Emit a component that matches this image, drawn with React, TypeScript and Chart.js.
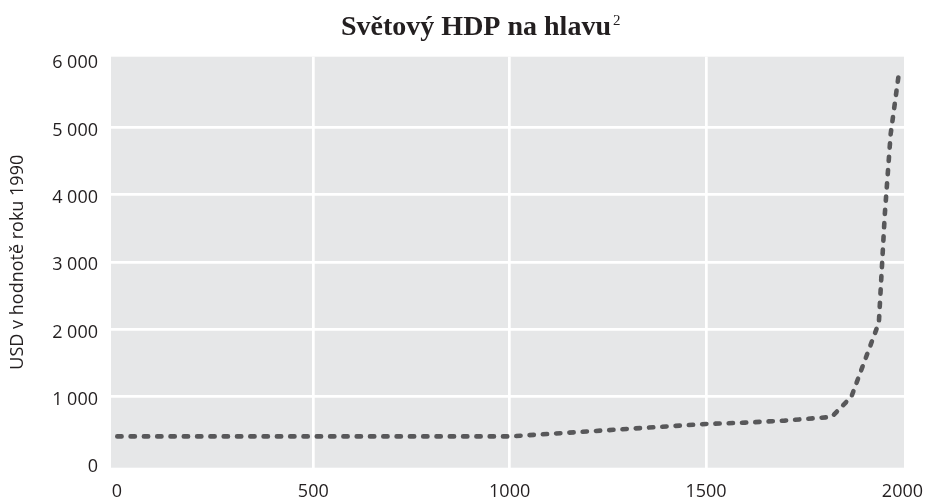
import { useEffect, useRef } from 'react';
import { Chart, registerables } from 'chart.js';

Chart.register(...registerables);

// Data
const years = [1, 1000, 1500, 1600, 1700, 1820, 1870, 1940, 1955, 1970, 1992];
const gdpPerCapita = [410, 410, 595, 615, 645, 700, 1000, 2100, 3700, 4900, 5850];
const xTicks = [0, 500, 1000, 1500, 2000];
const yTicks = [0, 1000, 2000, 3000, 4000, 5000, 6000];
const titleText = 'Světový HDP na hlavu';
const titleSup = '2';
const yTitle = 'USD v hodnotě roku 1990';

const TEXT = '#231f20';
const SANS = '"Open Sans", "Noto Sans", sans-serif';

function fmtThousands(v: number): string {
  if (v >= 1000) {
    const th = Math.floor(v / 1000);
    const rest = String(v % 1000).padStart(3, '0');
    return th + ' ' + rest;
  }
  return String(v);
}

const bgPlugin = {
  id: 'plotBg',
  beforeDraw(chart: any) {
    const { ctx, chartArea } = chart;
    ctx.save();
    ctx.fillStyle = '#e6e7e8';
    ctx.fillRect(chartArea.left, chartArea.top, chartArea.right - chartArea.left, chartArea.bottom - chartArea.top);
    ctx.restore();
  },
};

const titlePlugin = {
  id: 'customTitle',
  afterDraw(chart: any) {
    const { ctx } = chart;
    ctx.save();
    ctx.fillStyle = TEXT;
    ctx.textBaseline = 'alphabetic';
    ctx.font = 'bold 28px "Liberation Serif", serif';
    const w = ctx.measureText(titleText).width;
    const cx = 476;
    const x0 = cx - w / 2;
    ctx.textAlign = 'left';
    ctx.fillText(titleText, x0, 35);
    ctx.font = '15px "Liberation Serif", serif';
    ctx.fillText(titleSup, x0 + w + 2, 25);
    ctx.restore();
  },
};

export default function App() {
  const ref = useRef<HTMLCanvasElement | null>(null);

  useEffect(() => {
    document.body.style.margin = '0';
    const canvas = ref.current;
    if (!canvas) return;
    const chart = new Chart(canvas, {
      type: 'line',
      data: {
        datasets: [
          {
            data: years.map((y, i) => ({ x: y, y: gdpPerCapita[i] })),
            borderColor: '#58585a',
            borderWidth: 4.6,
            borderDash: [4.3, 9],
            borderCapStyle: 'round',
            borderJoinStyle: 'round',
            pointRadius: 0,
            tension: 0,
            fill: false,
          },
        ],
      },
      options: {
        animation: false,
        responsive: false,
        maintainAspectRatio: false,
        layout: { padding: { top: 56.7, right: 26, left: 0, bottom: 0 } },
        plugins: {
          legend: { display: false },
          title: { display: false },
          tooltip: { enabled: false },
        },
        scales: {
          x: {
            type: 'linear',
            min: -15,
            max: 2004,
            afterBuildTicks: (axis: any) => {
              axis.ticks = xTicks.map((v) => ({ value: v }));
            },
            afterFit: (scale: any) => {
              scale.height = 32.3;
              scale.paddingLeft = 0;
              scale.paddingRight = 0;
            },
            grid: {
              color: (ctx: any) =>
                ctx.tick && ctx.tick.value > xTicks[0] && ctx.tick.value < xTicks[xTicks.length - 1]
                  ? '#ffffff'
                  : 'rgba(0,0,0,0)',
              lineWidth: 2.7,
              drawTicks: false,
            },
            border: { display: false },
            ticks: {
              font: { family: SANS, size: 18 },
              color: TEXT,
              padding: 13,
              maxRotation: 0,
              autoSkip: false,
              callback: (v: any) => String(v),
            },
          },
          y: {
            type: 'linear',
            min: -55,
            max: 6052,
            afterBuildTicks: (axis: any) => {
              axis.ticks = yTicks.map((v) => ({ value: v }));
            },
            afterFit: (scale: any) => {
              scale.width = 111;
              scale.paddingTop = 0;
              scale.paddingBottom = 0;
            },
            grid: {
              color: (ctx: any) =>
                ctx.tick && ctx.tick.value > yTicks[0] && ctx.tick.value < yTicks[yTicks.length - 1]
                  ? '#ffffff'
                  : 'rgba(0,0,0,0)',
              lineWidth: 2.7,
              drawTicks: false,
            },
            border: { display: false },
            title: {
              display: true,
              text: yTitle,
              font: { family: SANS, size: 18 },
              color: TEXT,
              padding: { top: 7.2, bottom: 0 },
            },
            ticks: {
              font: { family: SANS, size: 18 },
              color: TEXT,
              padding: 13,
              labelOffset: 3,
              autoSkip: false,
              callback: (v: any) => fmtThousands(Number(v)),
            },
          },
        },
      },
      plugins: [bgPlugin, titlePlugin],
    } as any);
    return () => chart.destroy();
  }, []);

  return (
    <div style={{ width: 930, height: 500 }}>
      <canvas ref={ref} width={930} height={500} style={{ display: 'block', width: 930, height: 500 }} />
    </div>
  );
}
